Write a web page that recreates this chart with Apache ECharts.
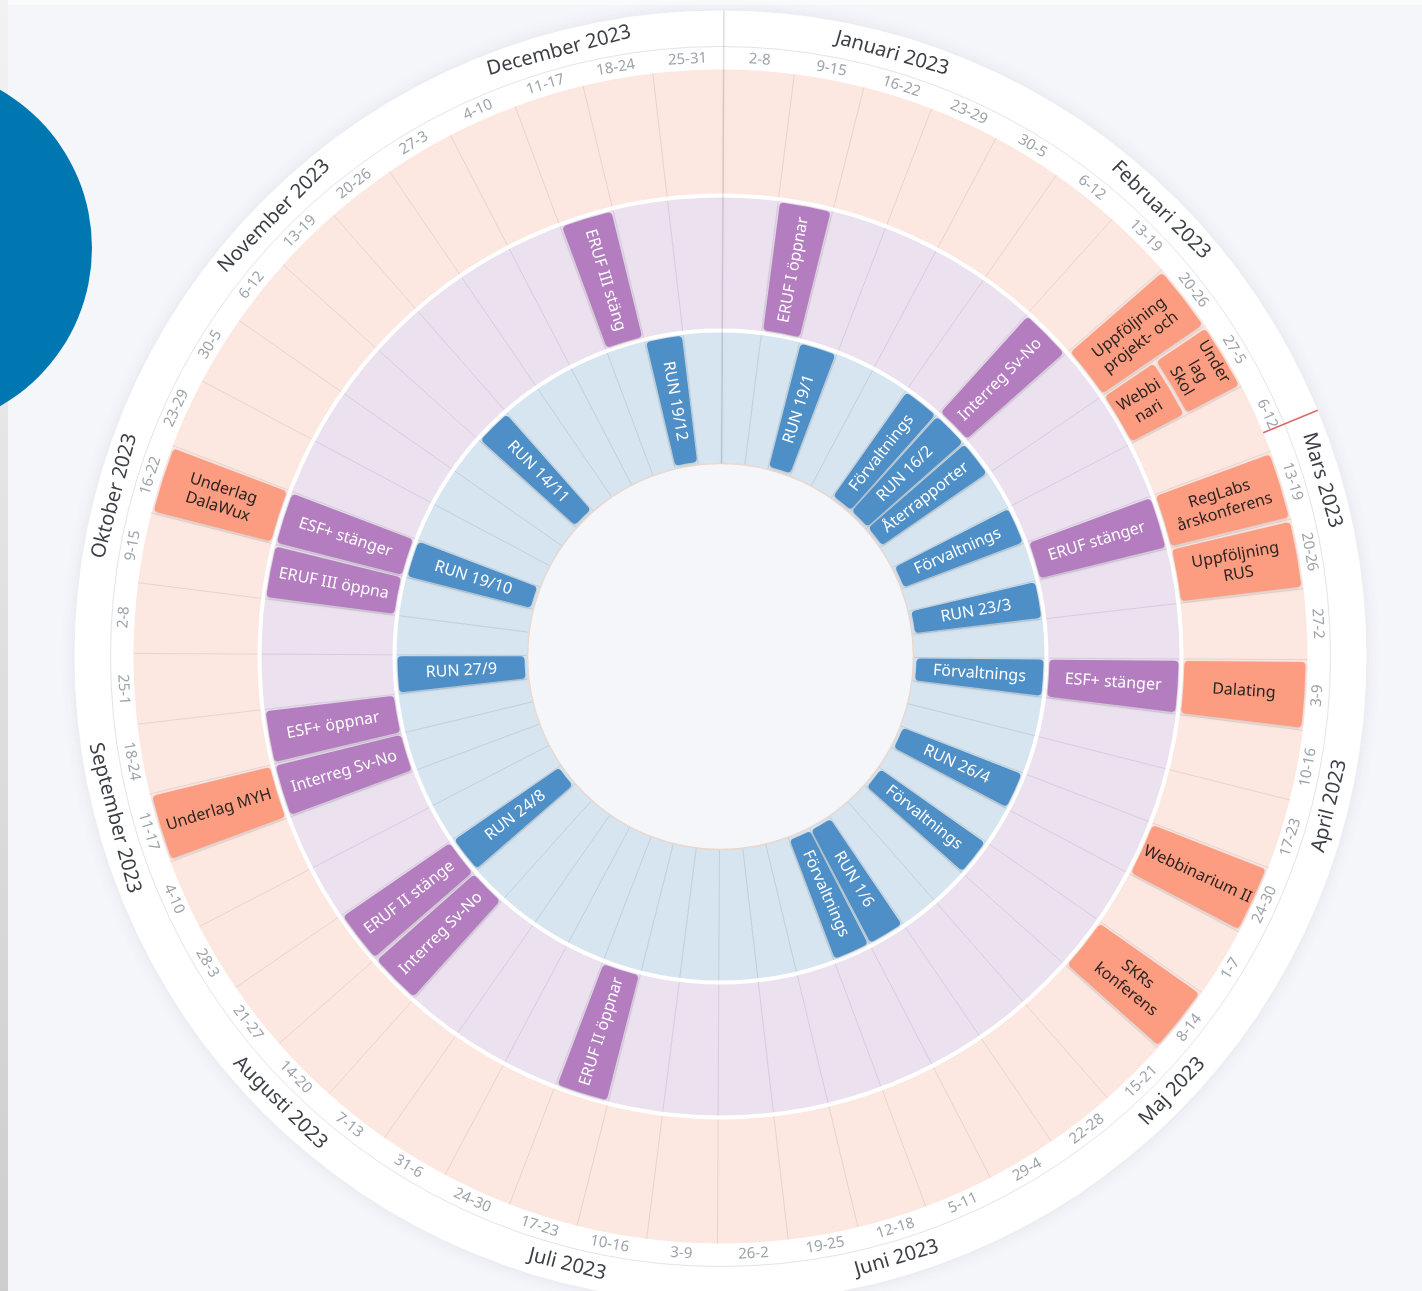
<!DOCTYPE html>
<html lang="sv">
<head>
<meta charset="utf-8">
<title>Årshjul 2023</title>
<script src="https://cdn.jsdelivr.net/npm/echarts@6/dist/echarts.min.js"></script>
<style>
html,body{margin:0;padding:0;background:#f4f6fa;overflow:hidden}
#chart{width:1422px;height:1291px}
</style>
</head>
<body>
<div id="chart"></div>
<script>
// ================= DATA =================
const weekLabels = ['2-8','9-15','16-22','23-29','30-5','6-12','13-19','20-26','27-5','6-12','13-19','20-26','27-2',
  '3-9','10-16','17-23','24-30','1-7','8-14','15-21','22-28','29-4','5-11','12-18','19-25','26-2',
  '3-9','10-16','17-23','24-30','31-6','7-13','14-20','21-27','28-3','4-10','11-17','18-24','25-1',
  '2-8','9-15','16-22','23-29','30-5','6-12','13-19','20-26','27-3','4-10','11-17','18-24','25-31'];

const monthLabels = ['Januari 2023','Februari 2023','Mars 2023','April 2023','Maj 2023','Juni 2023',
  'Juli 2023','Augusti 2023','September 2023','Oktober 2023','November 2023','December 2023'];
// label centre, in weeks from 2 Jan
const monthCenters = [2.25, 6.4, 10.6, 14.95, 19.3, 23.6, 28.0, 32.4, 36.8, 41.1, 45.4, 49.8];

// inner ring (blue): week index + text
const blueWeeks = [2, 5, 6, 7, 9, 11, 13, 16, 18, 21, 22, 33, 38, 41, 45, 50];
const blueTexts = ['RUN 19/1','Förvaltnings','RUN 16/2','Återrapporter','Förvaltnings','RUN 23/3',
  'Förvaltnings','RUN 26/4','Förvaltnings','RUN 1/6','Förvaltnings','RUN 24/8','RUN 27/9',
  'RUN 19/10','RUN 14/11','RUN 19/12'];

// middle ring (purple)
const purpleWeeks = [1, 6, 10, 13, 28, 32, 33, 36, 37, 40, 41, 49];
const purpleTexts = ['ERUF I öppnar','Interreg Sv-No','ERUF stänger','ESF+ stänger','ERUF II öppnar',
  'Interreg Sv-No','ERUF II stänge','Interreg Sv-No','ESF+ öppnar','ERUF III öppna','ESF+ stänger',
  'ERUF III stäng'];

// outer ring (orange)
const peachWeeks = [7, 8, 8, 10, 11, 13, 16, 18, 36, 41];
const peachTexts = ['Uppföljning\nprojekt- och','Webbi\nnari','Under\nlag\nSkol','RegLabs\nårskonferens',
  'Uppföljning\nRUS','Dalating','Webbinarium II','SKRs\nkonferens','Underlag MYH','Underlag\nDalaWux'];
const peachSlots = ['full','inner','outer','full','full','full','full','full','full','full'];

const todayWeek = 9.72;

// ================= LAYOUT / STYLE =================
const R = { inner: 193, blue: 326, purple: 461, peach: 587, weekText: 598, divider: 610, monthText: 627, outer: 646 };
const RINGS = [
  { r0: R.inner, r1: R.blue,   fill: '#d6e5f0', line: '#bdd0df' },
  { r0: R.blue,  r1: R.purple, fill: '#ece1ef', line: '#d8cbdf' },
  { r0: R.purple,r1: R.peach,  fill: '#fde7e1', line: '#e8d3cd' }
];
const FONT = '"Noto Sans", "Open Sans", sans-serif';

function ang(c, cs) { return Math.atan2(c[1] - cs.cy, c[0] - cs.cx); }
function radialRot(phi) { return Math.cos(phi) < -1e-6 ? Math.PI - phi : -phi; }
function tangRot(phi) { return Math.sin(phi) <= 1e-6 ? -(phi + Math.PI / 2) : -(phi - Math.PI / 2); }

function sectorEl(api, cs, r0, r1, a0, a1, style, corner) {
  const c0 = api.coord([r0, a0]), c1 = api.coord([r1, a1]);
  let s = ang(c0, cs), e = ang(c1, cs);
  while (e < s) e += Math.PI * 2;
  return { type: 'sector',
    shape: { cx: cs.cx, cy: cs.cy, r0: c0[2], r: c1[2], startAngle: s, endAngle: e, clockwise: true, cornerRadius: corner || 0 },
    style: style };
}
function radialLine(api, r0, r1, a, style) {
  const p0 = api.coord([r0, a]), p1 = api.coord([r1, a]);
  return { type: 'line', shape: { x1: p0[0], y1: p0[1], x2: p1[0], y2: p1[1] }, style: style };
}
function circleEl(api, cs, r, style) {
  const c = api.coord([r, 0]);
  return { type: 'circle', shape: { cx: cs.cx, cy: cs.cy, r: c[2] }, style: style };
}

// ----- renderers -----
function renderDisk(params, api) {
  const cs = params.coordSys;
  return { type: 'group', children: [
    circleEl(api, cs, R.outer, { fill: '#ffffff', shadowBlur: 16, shadowColor: 'rgba(60,70,100,0.10)' }),
    circleEl(api, cs, R.divider, { fill: 'none', stroke: '#e3e4e9', lineWidth: 1 })
  ]};
}

function renderWeek(params, api) {
  const cs = params.coordSys;
  const i = api.value(1);
  const ch = [];
  RINGS.forEach(g => ch.push(sectorEl(api, cs, g.r0, g.r1, i, i + 1, { fill: g.fill })));
  RINGS.forEach(g => ch.push(radialLine(api, g.r0, g.r1, i, { stroke: g.line, lineWidth: 1 })));
  const c = api.coord([R.weekText, i + 0.5]);
  ch.push({ type: 'text', x: c[0], y: c[1], rotation: tangRot(ang(c, cs)),
    style: { text: weekLabels[params.dataIndex], fill: '#9ea2a9', font: '15px ' + FONT, align: 'center', verticalAlign: 'middle' } });
  return { type: 'group', children: ch };
}

function renderFrame(params, api) {
  const cs = params.coordSys;
  return { type: 'group', children: [
    circleEl(api, cs, R.blue, { fill: 'none', stroke: '#ffffff', lineWidth: 4 }),
    circleEl(api, cs, R.purple, { fill: 'none', stroke: '#ffffff', lineWidth: 4 }),
    circleEl(api, cs, R.inner, { fill: '#f5f6fa', stroke: '#ead8cf', lineWidth: 1.5 }),
    radialLine(api, R.inner, R.outer, 0, { stroke: 'rgba(120,120,130,0.22)', lineWidth: 1.5, shadowBlur: 5, shadowColor: 'rgba(0,0,0,0.2)', shadowOffsetX: 1 }),
    radialLine(api, R.peach, R.outer, api.value(1), { stroke: '#e06666', lineWidth: 1.5 })
  ]};
}

function eventRenderer(texts, cfg) {
  return function (params, api) {
    const cs = params.coordSys;
    const idx = params.dataIndex;
    const w = api.value(1);
    let r0 = cfg.r0, r1 = cfg.r1;
    const slot = cfg.slots ? cfg.slots[idx] : 'full';
    const mid = (cfg.r0 + cfg.r1) / 2;
    if (slot === 'inner') r1 = mid - 2;
    if (slot === 'outer') r0 = mid + 2;
    const pad = 0.035;
    const box = sectorEl(api, cs, r0, r1, w + pad, w + 1 - pad,
      { fill: cfg.fill, shadowBlur: 3, shadowOffsetY: 1, shadowColor: 'rgba(0,0,0,0.18)' }, 4);
    const c = api.coord([(r0 + r1) / 2, w + 0.5]);
    const phi = ang(c, cs);
    const tang = slot === 'outer';
    const txt = { type: 'text', x: c[0], y: c[1], rotation: tang ? tangRot(phi) : radialRot(phi),
      style: { text: texts[idx], fill: cfg.color, font: '16px ' + FONT, lineHeight: 19, align: 'center', verticalAlign: 'middle' } };
    return { type: 'group', children: [box, txt] };
  };
}

function renderMonth(params, api) {
  const cs = params.coordSys;
  const c = api.coord([R.monthText, api.value(1)]);
  return { type: 'text', x: c[0], y: c[1], rotation: tangRot(ang(c, cs)),
    style: { text: monthLabels[params.dataIndex], fill: '#3c3f46', font: '20px ' + FONT, align: 'center', verticalAlign: 'middle' } };
}

const chart = echarts.init(document.getElementById('chart'), null, { renderer: 'canvas' });
chart.setOption({
  backgroundColor: '#f4f6fa',
  animation: false,
  polar: { center: [720.5, 656.5], radius: [0, R.outer] },
  angleAxis: { type: 'value', min: 0, max: 52, startAngle: 89.7, clockwise: true, show: false },
  radiusAxis: { type: 'value', min: 0, max: R.outer, show: false },
  graphic: [
    { type: 'rect', shape: { x: 0, y: 0, width: 1422, height: 5 }, style: { fill: '#fafbfc' }, z: 0 },
    { type: 'rect', shape: { x: 0, y: 0, width: 8, height: 1291 },
      style: { fill: new echarts.graphic.LinearGradient(0, 0, 0, 1, [{ offset: 0, color: '#f2f2f2' }, { offset: 1, color: '#cdcdcd' }]) }, z: 0 },
    { type: 'circle', shape: { cx: -90, cy: 248, r: 182 }, style: { fill: '#0177b1' }, z: 0 }
  ],
  series: [
    { type: 'custom', coordinateSystem: 'polar', data: [[0, 0]], renderItem: renderDisk, silent: true },
    { type: 'custom', coordinateSystem: 'polar', data: weekLabels.map((l, i) => [R.peach, i]), renderItem: renderWeek, silent: true },
    { type: 'custom', coordinateSystem: 'polar', data: [[R.peach, todayWeek]], renderItem: renderFrame, silent: true },
    { type: 'custom', coordinateSystem: 'polar', data: blueWeeks.map(w => [R.blue, w]),
      renderItem: eventRenderer(blueTexts, { r0: 196, r1: 323, fill: '#4d8fc6', color: '#ffffff' }) },
    { type: 'custom', coordinateSystem: 'polar', data: purpleWeeks.map(w => [R.purple, w]),
      renderItem: eventRenderer(purpleTexts, { r0: 329, r1: 458, fill: '#b47dc0', color: '#ffffff' }) },
    { type: 'custom', coordinateSystem: 'polar', data: peachWeeks.map(w => [R.peach, w]),
      renderItem: eventRenderer(peachTexts, { r0: 464, r1: 585, fill: '#fc9c80', color: '#2a2320', slots: peachSlots }) },
    { type: 'custom', coordinateSystem: 'polar', data: monthCenters.map(m => [R.monthText, m]), renderItem: renderMonth, silent: true }
  ]
});
</script>
</body>
</html>
